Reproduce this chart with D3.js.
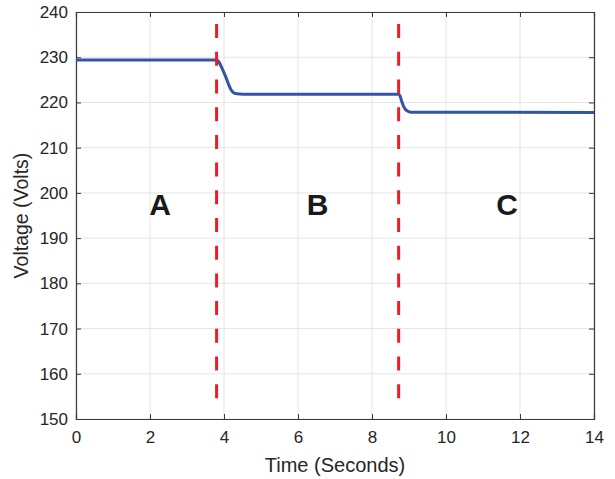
<!DOCTYPE html>
<html>
<head>
<meta charset="utf-8">
<script src="https://cdn.jsdelivr.net/npm/d3@7"></script>
<style>
  html, body { margin: 0; padding: 0; background: #fff; }
  svg { display: block; font-family: "Liberation Sans", Arial, Helvetica, sans-serif; }
</style>
</head>
<body>
<svg id="chart" width="615" height="479"></svg>
<script>
// Bus voltage over time (seconds, volts)
const timeSec = [0, 3.81, 3.86, 3.95, 4.05, 4.13, 4.19, 4.25, 4.35, 4.5,
                 8.72, 8.76, 8.80, 8.85, 8.90, 8.96, 9.05, 14];
const voltage = [229.4, 229.4, 229.0, 227.5, 225.6, 223.9, 222.8, 222.2, 221.9, 221.8,
                 221.8, 221.4, 220.3, 219.2, 218.5, 218.1, 217.85, 217.8];

// Switching instants (dashed markers) and region labels
const eventTimes = [3.8, 8.72];
const eventSpan = [154.6, 237.8];
const regionNames = ["A", "B", "C"];
const regionX = [2.27, 6.53, 11.65];
const regionY = 195.1;

const xTicks = [0, 2, 4, 6, 8, 10, 12, 14];
const yTicks = [150, 160, 170, 180, 190, 200, 210, 220, 230, 240];

const margin = { left: 76, top: 12, right: 21, bottom: 60 };
const W = 615, H = 479;
const iw = W - margin.left - margin.right;
const ih = 419 - margin.top;

const svg = d3.select("#chart");
const g = svg.append("g").attr("transform", `translate(${margin.left},${margin.top})`);

const x = d3.scaleLinear().domain([0, 14]).range([0, iw]);
const y = d3.scaleLinear().domain([150, 240]).range([ih, 0]);

// grid
g.append("g").selectAll("line").data(xTicks).join("line")
  .attr("x1", d => x(d)).attr("x2", d => x(d))
  .attr("y1", 0).attr("y2", ih)
  .attr("stroke", "#e5e5e5").attr("stroke-width", 1);
g.append("g").selectAll("line").data(yTicks).join("line")
  .attr("x1", 0).attr("x2", iw)
  .attr("y1", d => y(d)).attr("y2", d => y(d))
  .attr("stroke", "#e5e5e5").attr("stroke-width", 1);

// axes (ticks point inward)
const axisColor = "#3a3a3a";
const xAxis = g.append("g").attr("transform", `translate(0,${ih})`)
  .call(d3.axisBottom(x).tickValues(xTicks).tickSize(-5).tickPadding(12).tickFormat(d3.format("d")));
const yAxis = g.append("g")
  .call(d3.axisLeft(y).tickValues(yTicks).tickSize(-5).tickPadding(8).tickFormat(d3.format("d")));
const xTop = g.append("g")
  .call(d3.axisTop(x).tickValues(xTicks).tickSize(-5).tickFormat(""));
const yRight = g.append("g").attr("transform", `translate(${iw},0)`)
  .call(d3.axisRight(y).tickValues(yTicks).tickSize(-5).tickFormat(""));

[xAxis, yAxis, xTop, yRight].forEach(a => {
  a.select(".domain").attr("stroke", axisColor).attr("stroke-width", 1.2);
  a.selectAll(".tick line").attr("stroke", axisColor);
  a.selectAll(".tick text")
    .attr("fill", "#262626")
    .style("font-size", "17px")
    .style("font-family", "'Liberation Sans', Arial, sans-serif");
});

// voltage trace
const pts = timeSec.map((t, i) => [t, voltage[i]]);
g.append("path")
  .datum(pts)
  .attr("fill", "none")
  .attr("stroke", "#3353a4")
  .attr("stroke-width", 3)
  .attr("stroke-linejoin", "round")
  .attr("d", d3.line().x(d => x(d[0])).y(d => y(d[1])).curve(d3.curveMonotoneX));

// event markers
g.append("g").selectAll("line").data(eventTimes).join("line")
  .attr("x1", d => x(d)).attr("x2", d => x(d))
  .attr("y1", y(eventSpan[0])).attr("y2", y(eventSpan[1]))
  .attr("stroke", "#ee1d25")
  .attr("stroke-width", 3)
  .attr("stroke-dasharray", "14,13.7");

// region labels
g.append("g").selectAll("text").data(regionNames).join("text")
  .attr("x", (d, i) => x(regionX[i]))
  .attr("y", y(regionY))
  .attr("text-anchor", "middle")
  .attr("fill", "#1a1a1a")
  .style("font-weight", "bold")
  .style("font-size", "30px")
  .style("font-family", "'Liberation Sans', Arial, sans-serif")
  .text(d => d);

// axis titles
svg.append("text")
  .attr("x", margin.left + iw / 2)
  .attr("y", 472)
  .attr("text-anchor", "middle")
  .attr("fill", "#262626")
  .style("font-size", "20px")
  .text("Time (Seconds)");

svg.append("text")
  .attr("transform", `translate(28,${margin.top + ih / 2}) rotate(-90)`)
  .attr("text-anchor", "middle")
  .attr("fill", "#262626")
  .style("font-size", "19.5px")
  .text("Voltage (Volts)");
</script>
</body>
</html>
